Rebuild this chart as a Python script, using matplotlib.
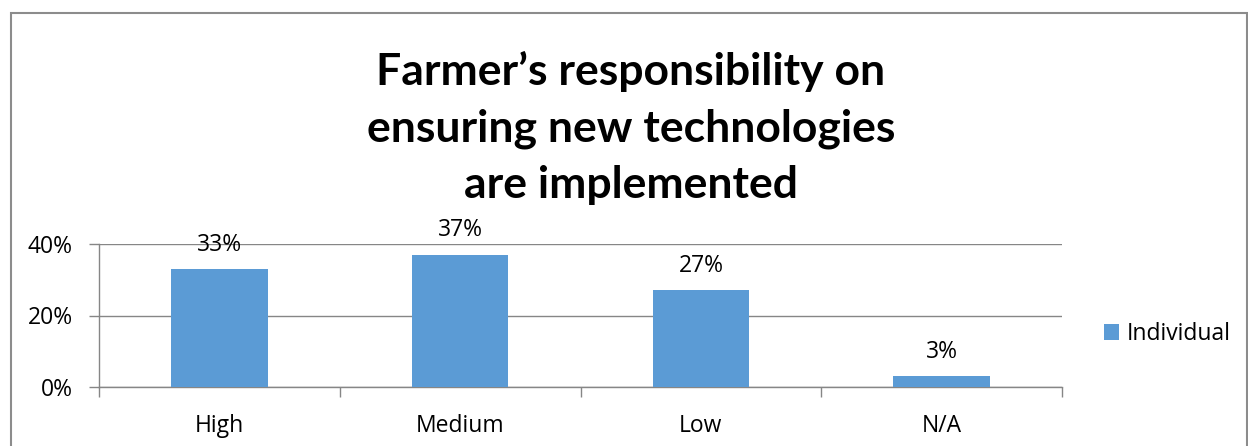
import matplotlib
matplotlib.use("Agg")
import matplotlib.pyplot as plt
from matplotlib.patches import Rectangle

# Chart data
categories = ["High", "Medium", "Low", "N/A"]
values = [0.33, 0.37, 0.27, 0.03]
series_name = "Individual"
title = "Farmer\u2019s responsibility on\nensuring new technologies\nare implemented"

bar_color = "#5B9BD5"
grid_color = "#868686"

plt.rcParams["font.family"] = ["Open Sans", "DejaVu Sans"]

W, H = 1248, 446
fig = plt.figure(figsize=(W / 100, H / 100), dpi=100)

# outer chart border
fig.patches.append(Rectangle((11 / W, -0.1), (1247 - 11) / W, 1.1 - 13 / H,
                             transform=fig.transFigure, fill=False,
                             edgecolor="#8C8C8C", linewidth=1.5))

# axes box in pixels: left 99, right 1062, top 244, bottom 387
ax = fig.add_axes([99 / W, 1 - 387 / H, (1062 - 99) / W, (387 - 244) / H])

x = range(len(categories))
bars = ax.bar(x, values, width=0.4, color=bar_color, label=series_name, zorder=3)

fs = 16.5
ax.set_xlim(-0.5, len(categories) - 0.5)
ax.set_ylim(0, 0.4)
ax.set_yticks([0, 0.2, 0.4])
ax.set_yticklabels(["0%", "20%", "40%"], fontsize=fs)
ax.yaxis.grid(True, color=grid_color, linewidth=1, zorder=0)

# category labels centred, tick marks at category boundaries
ax.set_xticks(list(x))
ax.set_xticklabels(categories, fontsize=fs)
ax.tick_params(axis="x", length=0, pad=19.5)
ax.set_xticks([i - 0.5 for i in range(len(categories) + 1)], minor=True)
ax.tick_params(axis="x", which="minor", length=7, color=grid_color, width=1)
ax.tick_params(axis="y", length=7, color=grid_color, width=1, pad=12)

for side in ["top", "right"]:
    ax.spines[side].set_visible(False)
for side in ["left", "bottom"]:
    ax.spines[side].set_color(grid_color)
    ax.spines[side].set_linewidth(1)

# data labels above bars
for xi, v in zip(x, values):
    ax.annotate(f"{int(round(v * 100))}%", (xi, v), xytext=(0, 17.5),
                textcoords="offset points", ha="center", va="center",
                fontsize=fs, annotation_clip=False)

fig.text(631 / W, 1 - 128 / H, title, ha="center", va="center",
         family=["Lato", "DejaVu Sans"], fontsize=32, fontweight="bold",
         linespacing=1.5)

fig.legend(handles=[bars], labels=[series_name], loc="center left",
           bbox_to_anchor=(1104 / W, 1 - 334 / H), frameon=False,
           fontsize=fs, handlelength=0.65, handleheight=0.65,
           handletextpad=0.35, borderaxespad=0, borderpad=0)

fig.savefig("out.png", dpi=100)
